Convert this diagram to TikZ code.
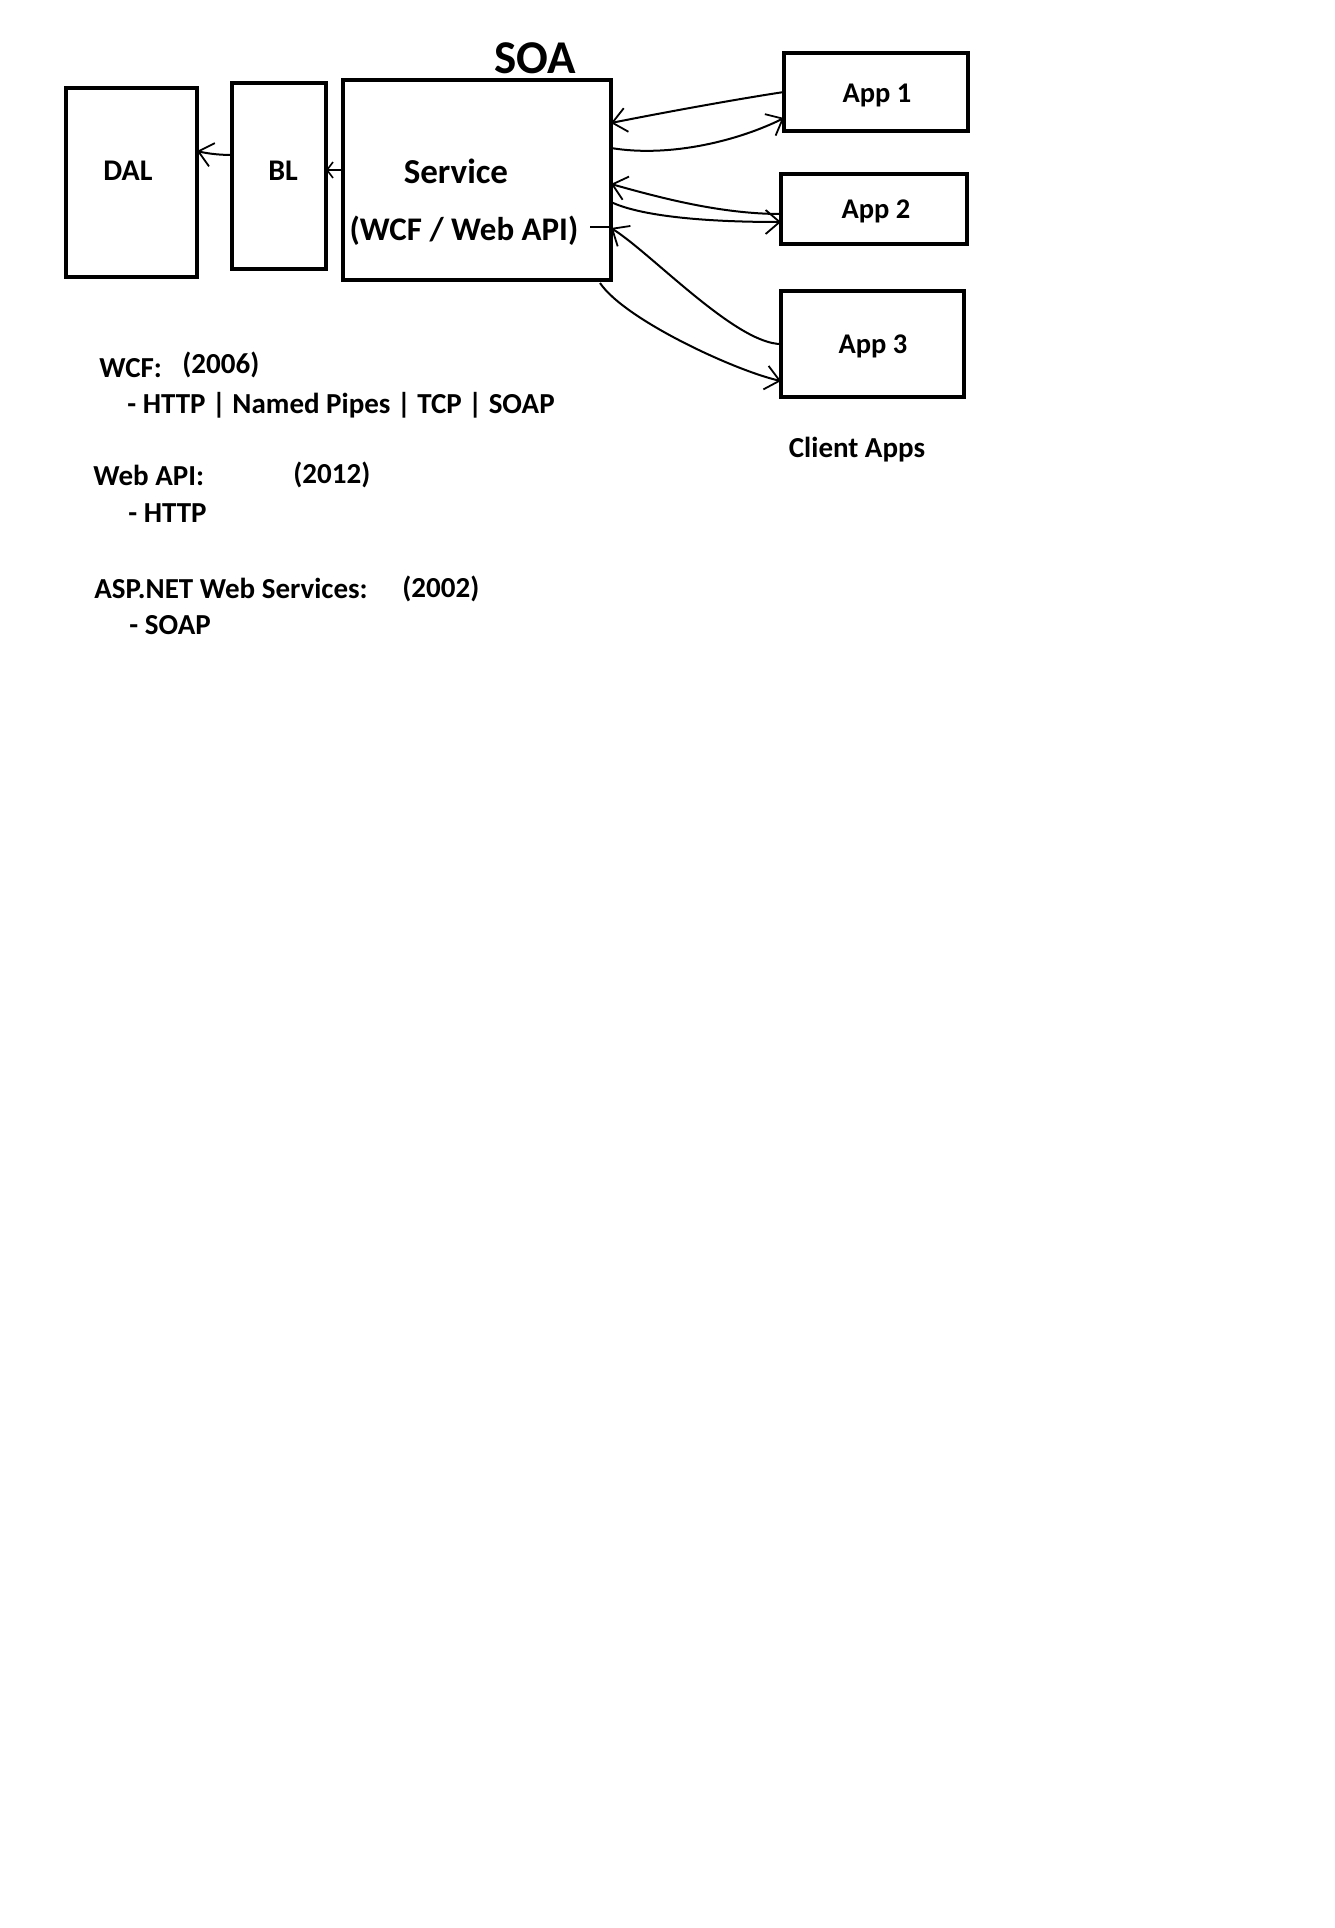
\documentclass[tikz,border=0pt]{standalone}
\usepackage{fontspec}
\setmainfont{Carlito}
\usetikzlibrary{arrows.meta,calc}
\begin{document}
\begin{tikzpicture}[x=0.5pt,y=-0.5pt,
  box/.style={draw,line width=2.3pt,inner sep=0pt,outer sep=0pt},
  wire/.style={line width=1pt,-{Straight Barb[length=7pt,width=12pt,line width=0.9pt]}},
  lbl/.style={inner sep=0pt,anchor=base,font=\bfseries\fontsize{#1}{#1}\selectfont},
  txt/.style={inner sep=0pt,anchor=base west,font=\bfseries\fontsize{14.5}{17}\selectfont}]
\useasboundingbox (0,0) rectangle (1334,1928);
\node[box,minimum width=65.5pt,minimum height=94.5pt] (dal) at (131.5,182.5) {};
\node[box,minimum width=47pt,minimum height=93pt] (bl) at (279,176) {};
\node[box,minimum width=134pt,minimum height=100pt] (svc) at (477,180) {};
\node[box,minimum width=92pt,minimum height=39pt] (app1) at (876,92) {};
\node[box,minimum width=93pt,minimum height=35pt] (app2) at (874,209) {};
\node[box,minimum width=91.5pt,minimum height=53pt] (app3) at (872.5,344) {};
\node[lbl=23.5] (soa) at (535,73) {SOA};
\node[lbl=15] (dal-t) at (128,180) {DAL};
\node[lbl=15] (bl-t) at (283,180) {BL};
\node[lbl=17.5] (svc-t) at (456,183) {Service};
\node[lbl=16.5] (svc-sub) at (464,240) {(WCF / Web API)};
\node[lbl=14.25] (app1-t) at (877,102) {App 1};
\node[lbl=14.25] (app2-t) at (876,218) {App 2};
\node[lbl=14.25] (app3-t) at (873,353) {App 3};
\node[lbl=14.5] (clients) at (857,457) {Client Apps};
\draw[wire] ($(bl.west)+(0,-21)$) .. controls +(-15,0) and +(8,2) .. ($(dal.east)+(0,-31.5)$);
\draw[line width=1pt,-{Straight Barb[length=3pt,width=8pt,line width=0.8pt]}] ($(svc.west)+(0,-10)$) -- ($(bl.east)+(0,-6)$);
\draw[wire] (app1.west) .. controls +(-40,6) and +(60,-12) .. ($(svc.north east)+(0,43)$);
\draw[wire] ($(svc.north east)+(0,68)$) .. controls +(60,10) and +(-44,22) .. ($(app1.west)+(0,26)$);
\draw[wire] ($(app2.west)+(0,5)$) .. controls +(-60,0) and +(50,14) .. ($(svc.north east)+(0,104)$);
\draw[wire] ($(svc.north east)+(0,122)$) .. controls +(25,12) and +(-90,0) .. ($(app2.west)+(0,13)$);
\draw[wire] (app3.west) .. controls +(-45,0) and +(40,25) .. ($(svc.north east)+(0,148)$);
\draw[line width=1pt] ($(svc.north east)+(-21,147)$) -- ($(svc.north east)+(0,147)$);
\draw[wire] ($(svc.south east)+(-11,3)$) .. controls +(25,37) and +(-45,-10) .. ($(app3.west)+(0,37)$);
\node[txt] (wcf) at (99,377) {WCF:};
\node[txt] (wcf-y) at (182,373) {(2006)};
\node[txt] (wcf-p) at (127,413) {- HTTP | Named Pipes | TCP | SOAP};
\node[txt] (api) at (93,485) {Web API:};
\node[txt] (api-y) at (293,483) {(2012)};
\node[txt] (api-p) at (128,522) {- HTTP};
\node[txt] (asp) at (94,598) {ASP.NET Web Services:};
\node[txt] (asp-y) at (402,597) {(2002)};
\node[txt] (asp-p) at (129,634) {- SOAP};
\end{tikzpicture}
\end{document}
